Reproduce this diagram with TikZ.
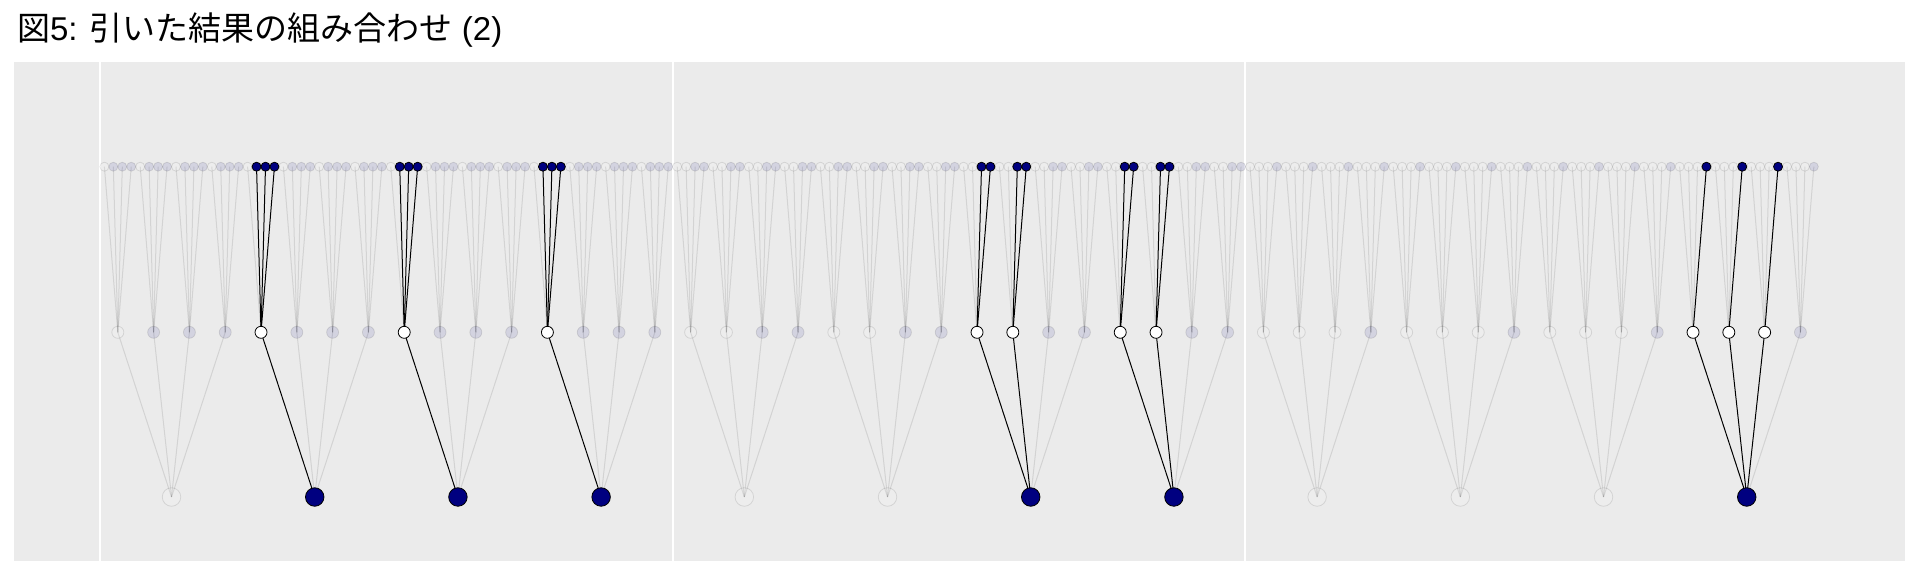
\documentclass[tikz,border=0pt]{standalone}
\usepackage{fontspec}
\setmainfont{Liberation Sans}
\newfontfamily\cjk{Noto Sans CJK JP}
\usepackage{tikz}
\pgfdeclarelayer{background}
\pgfdeclarelayer{edges}
\pgfsetlayers{background,edges,main}
\definecolor{navyball}{HTML}{000080}
\definecolor{panelbg}{HTML}{EBEBEB}

\begin{document}
\begin{tikzpicture}[
  x=1pt,y=-1pt,
  every node/.style={inner sep=0pt,outer sep=0pt},
  ball/.style={circle,draw=black,line width=0.8pt},
  topball/.style={ball,minimum size=9pt},
  midball/.style={ball,minimum size=12pt},
  botball/.style={ball,minimum size=18.5pt},
  gridline/.style={draw=white,line width=2.2pt},
  hdr/.style={anchor=base west,font=\fontsize{33}{33}\selectfont}
]

\useasboundingbox (0,0) rectangle (1920,576);
\node[hdr] (title) at (17,40) {{\cjk 図}5: {\cjk 引いた結果の組み合わせ} (2)};

%% panel background and grid
\begin{pgfonlayer}{background}
  \fill[white] (0,0) rectangle (1920,576);
  \fill[panelbg] (14,62) rectangle (1905,561);
  \foreach \g in {0,1,2}
    \draw[gridline] ({100.3+572.5*\g},62) -- ({100.3+572.5*\g},561);
\end{pgfonlayer}

%% first draw (bottom row)
\foreach \p in {1,2,3}
  \foreach \b in {0,...,3} {
    \pgfmathtruncatemacro\k{4*(\p-1)+\b}
    \pgfmathsetmacro\x{104.4+8.95*(16*\k+7.5)}
    \pgfmathtruncatemacro\nv{\b>=\p}
    \ifnum\nv=1 \def\fc{navyball}\def\op{1}\else\def\fc{white}\def\op{0.1}\fi
    \node[botball,fill=\fc,opacity=\op] (b\k) at (\x,497) {};
  }

%% second draw (middle row)
\foreach \p in {1,2,3}
  \foreach \b in {0,...,3}
    \foreach \m in {0,...,3} {
      \pgfmathtruncatemacro\k{4*(\p-1)+\b}
      \pgfmathtruncatemacro\j{4*\k+\m}
      \pgfmathsetmacro\x{104.4+8.95*(4*\j+1.5)}
      \pgfmathtruncatemacro\nv{\m>=\p}
      \pgfmathtruncatemacro\hl{(\b>=\p)*(\m<\p)}
      \ifnum\nv=1 \def\fc{navyball}\else\def\fc{white}\fi
      \ifnum\hl=1 \def\op{1}\else\def\op{0.1}\fi
      \node[midball,fill=\fc,opacity=\op] (m\j) at (\x,332.3) {};
      \begin{pgfonlayer}{edges}
        \draw[black,opacity=\op,line width=1pt] (m\j.center) -- (b\k.center);
      \end{pgfonlayer}
    }

%% third draw (top row)
\foreach \p in {1,2,3}
  \foreach \b in {0,...,3}
    \foreach \m in {0,...,3}
      \foreach \t in {0,...,3} {
        \pgfmathtruncatemacro\j{16*(\p-1)+4*\b+\m}
        \pgfmathtruncatemacro\i{4*\j+\t}
        \pgfmathsetmacro\x{104.4+8.95*\i}
        \pgfmathtruncatemacro\nv{\t>=\p}
        \pgfmathtruncatemacro\hl{(\b>=\p)*(\m<\p)*(\t>=\p)}
        \ifnum\nv=1 \def\fc{navyball}\else\def\fc{white}\fi
        \ifnum\hl=1 \def\op{1}\else\def\op{0.1}\fi
        \node[topball,fill=\fc,opacity=\op] (t\i) at (\x,166.7) {};
        \begin{pgfonlayer}{edges}
          \draw[black,opacity=\op,line width=1pt] (t\i.center) -- (m\j.center);
        \end{pgfonlayer}
      }

\end{tikzpicture}
\end{document}
